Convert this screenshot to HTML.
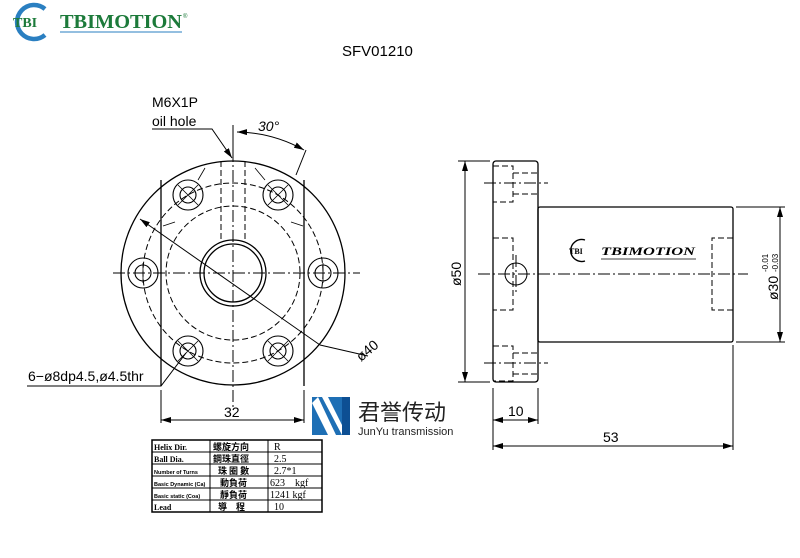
<!DOCTYPE html>
<html><head><meta charset="utf-8"><style>
html,body{margin:0;padding:0;background:#fff;width:800px;height:558px;overflow:hidden}
svg{display:block}
text{font-family:"Liberation Sans","Noto Sans CJK SC",sans-serif}
.serif{font-family:"Liberation Serif",serif}
.tc{font-family:"Noto Sans CJK TC",sans-serif}
.sc{font-family:"Noto Sans CJK SC",sans-serif}
</style></head><body>
<svg width="800" height="558" viewBox="0 0 800 558" xmlns="http://www.w3.org/2000/svg">
<defs>
<marker id="ar" viewBox="0 0 10 6" refX="10" refY="3" markerWidth="10" markerHeight="6" orient="auto-start-reverse" markerUnits="userSpaceOnUse"><path d="M0,0L10,3L0,6z" fill="#000"/></marker>
</defs>
<!-- logo -->
<path d="M45 9 A17 17 0 1 0 45 35" fill="none" stroke="#2a7fc1" stroke-width="4.5"/>
<text x="13" y="27" class="serif" font-weight="bold" font-size="14" fill="#1c7a3a">TBI</text>
<text x="60" y="28" class="serif" font-weight="bold" font-size="20" fill="#1c7a3a" textLength="122" lengthAdjust="spacingAndGlyphs">TBIMOTION</text>
<line x1="60" y1="32" x2="182" y2="32" stroke="#2a7fc1" stroke-width="1"/>
<text x="183" y="18" font-size="6" fill="#1c7a3a">®</text>
<text x="342" y="56" font-size="15" fill="#000">SFV01210</text>

<g fill="none" stroke="#000" stroke-width="1.3">
<circle cx="233" cy="273" r="112"/>
<line x1="161" y1="180" x2="161" y2="386"/>
<line x1="304" y1="180" x2="304" y2="386"/>
<circle cx="233" cy="273" r="33"/>
<circle cx="233" cy="273" r="29"/>
<g stroke-dasharray="6 3" stroke-width="1">
<circle cx="233" cy="273" r="90"/>
<circle cx="233" cy="273" r="67"/>
<line x1="221" y1="161" x2="221" y2="240"/>
<line x1="245" y1="161" x2="245" y2="240"/>
</g>
<g stroke-dasharray="12 3 2 3" stroke-width="1">
<line x1="233" y1="150" x2="233" y2="410"/>
<line x1="113" y1="273" x2="360" y2="273"/>
</g>
<g stroke-width="1.1">
<circle cx="188" cy="195" r="15"/><circle cx="188" cy="195" r="8"/>
<circle cx="278" cy="195" r="15"/><circle cx="278" cy="195" r="8"/>
<circle cx="143" cy="273" r="15"/><circle cx="143" cy="273" r="8"/>
<circle cx="323" cy="273" r="15"/><circle cx="323" cy="273" r="8"/>
<circle cx="188" cy="351" r="15"/><circle cx="188" cy="351" r="8"/>
<circle cx="278" cy="351" r="15"/><circle cx="278" cy="351" r="8"/>
</g>
<g stroke-width="0.8">
<path d="M178 185 L198 205 M198 185 L178 205"/>
<path d="M268 185 L288 205 M288 185 L268 205"/>
<path d="M178 341 L198 361 M198 341 L178 361"/>
<path d="M268 341 L288 361 M288 341 L268 361"/>
<path d="M143 263 V283 M323 263 V283"/>
<path d="M205 168 L198 180 M163 226 L175 222 M255 168 L265 180 M303 226 L291 222"/>
</g>
<line x1="140" y1="219" x2="320" y2="345" stroke-width="1" marker-start="url(#ar)"/>
<line x1="320" y1="345" x2="368" y2="356" stroke-width="1"/>
<path d="M233 160 L233 125" stroke-width="1"/>
<path d="M237 132 A140 140 0 0 1 304 150" stroke-width="1" marker-start="url(#ar)" marker-end="url(#ar)"/>
<line x1="296" y1="175" x2="306" y2="150" stroke-width="1"/>
<path d="M152 129 L212 129 L232 158" stroke-width="1" marker-end="url(#ar)"/>
<path d="M27 386 L161 386 L186 353" stroke-width="1"/>
<line x1="161" y1="390" x2="161" y2="423" stroke-width="1"/>
<line x1="304" y1="390" x2="304" y2="423" stroke-width="1"/>
<line x1="161" y1="420" x2="304" y2="420" stroke-width="1" marker-start="url(#ar)" marker-end="url(#ar)"/>

<!-- side view -->
<rect x="493" y="161" width="45" height="221" rx="3"/>
<rect x="538" y="207" width="195" height="135" rx="2"/>
<circle cx="516" cy="274" r="11" stroke-width="1"/>
<g stroke-dasharray="6 3" stroke-width="1">
<path d="M493 166 H513 V202 H493"/><path d="M513 173 H538 M513 194 H538"/>
<path d="M493 238 H513 V310 H493"/>
<path d="M493 346 H513 V381 H493"/><path d="M513 353 H538 M513 374 H538"/>
<path d="M733 238 H712 V310 H733"/>
</g>
<g stroke-dasharray="12 3 2 3" stroke-width="1">
<line x1="478" y1="274" x2="748" y2="274"/>
<line x1="484" y1="183" x2="548" y2="183"/>
<line x1="484" y1="363" x2="548" y2="363"/>
<line x1="516" y1="255" x2="516" y2="293"/>
</g>
<g stroke-width="1">
<line x1="458" y1="161" x2="490" y2="161"/><line x1="458" y1="382" x2="490" y2="382"/>
<line x1="465" y1="161" x2="465" y2="382" marker-start="url(#ar)" marker-end="url(#ar)"/>
<line x1="736" y1="207" x2="785" y2="207"/><line x1="736" y1="342" x2="785" y2="342"/>
<line x1="780" y1="207" x2="780" y2="342" marker-start="url(#ar)" marker-end="url(#ar)"/>
<line x1="493" y1="388" x2="493" y2="450"/><line x1="538" y1="388" x2="538" y2="424"/>
<line x1="733" y1="345" x2="733" y2="450"/>
<line x1="493" y1="420" x2="538" y2="420" marker-start="url(#ar)" marker-end="url(#ar)"/>
<line x1="493" y1="446" x2="733" y2="446" marker-start="url(#ar)" marker-end="url(#ar)"/>
</g>
</g>
<!-- side logo -->
<path d="M585 240 A11 11 0 1 0 585 261" fill="none" stroke="#000" stroke-width="1.4"/>
<text x="569" y="254" class="serif" font-weight="bold" font-size="8">TBI</text>
<text x="601" y="255" class="serif" font-weight="bold" font-style="italic" font-size="12" textLength="94" lengthAdjust="spacingAndGlyphs">TBIMOTION</text>
<line x1="601" y1="259" x2="696" y2="259" stroke="#000" stroke-width="0.8"/>

<!-- labels -->
<g font-size="14" fill="#000">
<text x="152" y="107">M6X1P</text>
<text x="152" y="126">oil hole</text>
<text x="258" y="131" font-style="italic">30°</text>
<text x="28" y="381">6−ø8dp4.5,ø4.5thr</text>
<text x="224" y="417">32</text>
<text x="508" y="416">10</text>
<text x="603" y="442">53</text>
<text transform="translate(361 362) rotate(-40)">ø40</text>
<text transform="translate(461 286) rotate(-90)">ø50</text>
<text transform="translate(778 300) rotate(-90)">ø30</text>
<text transform="translate(768 272) rotate(-90)" font-size="8">-0.01</text>
<text transform="translate(778 272) rotate(-90)" font-size="8">-0.03</text>
</g>

<!-- JunYu logo -->
<rect x="312" y="397" width="38" height="38" fill="#1e6fb5"/>
<path d="M318 397 L336 435 L328 435 L312 403 Z M328 397 L346 433 L342 435 L322 397Z" fill="#fff"/>
<rect x="342" y="397" width="8" height="38" fill="#0d4f93"/>
<text x="358" y="420" font-size="22" fill="#222" class="sc">君誉传动</text>
<text x="358" y="435" font-size="11" fill="#222">JunYu transmission</text>

<!-- table -->
<g stroke="#000" fill="none">
<rect x="152" y="440" width="170" height="72" stroke-width="1.5"/>
<line x1="210" y1="440" x2="210" y2="512"/><line x1="268" y1="440" x2="268" y2="512"/>
<line x1="152" y1="452" x2="322" y2="452"/><line x1="152" y1="464" x2="322" y2="464"/>
<line x1="152" y1="476" x2="322" y2="476"/><line x1="152" y1="488" x2="322" y2="488"/>
<line x1="152" y1="500" x2="322" y2="500"/>
</g>
<g font-size="8" font-weight="bold" fill="#000">
<text x="154" y="450" class="serif">Helix Dir.</text>
<text x="154" y="462" class="serif">Ball Dia.</text>
<text x="154" y="474" font-size="5.5">Number of Turns</text>
<text x="154" y="486" font-size="5.5">Basic Dynamic (Ca)</text>
<text x="154" y="498" font-size="5.5">Basic static (Coa)</text>
<text x="154" y="510" class="serif">Lead</text>
<text x="213" y="450" class="tc" font-size="9">螺旋方向</text>
<text x="213" y="462" class="tc" font-size="9">鋼珠直徑</text>
<text x="218" y="474" class="tc" font-size="9">珠 圈 數</text>
<text x="220" y="486" class="tc" font-size="9">動負荷</text>
<text x="220" y="498" class="tc" font-size="9">靜負荷</text>
<text x="218" y="510" class="tc" font-size="9">導　程</text>
<g class="serif" font-weight="normal" font-size="10">
<text x="274" y="450" class="serif">R</text>
<text x="274" y="462" class="serif">2.5</text>
<text x="274" y="474" class="serif">2.7*1</text>
<text x="270" y="486" class="serif">623　kgf</text>
<text x="270" y="498" class="serif">1241 kgf</text>
<text x="274" y="510" class="serif">10</text>
</g>
</g>
</svg>
</body></html>
